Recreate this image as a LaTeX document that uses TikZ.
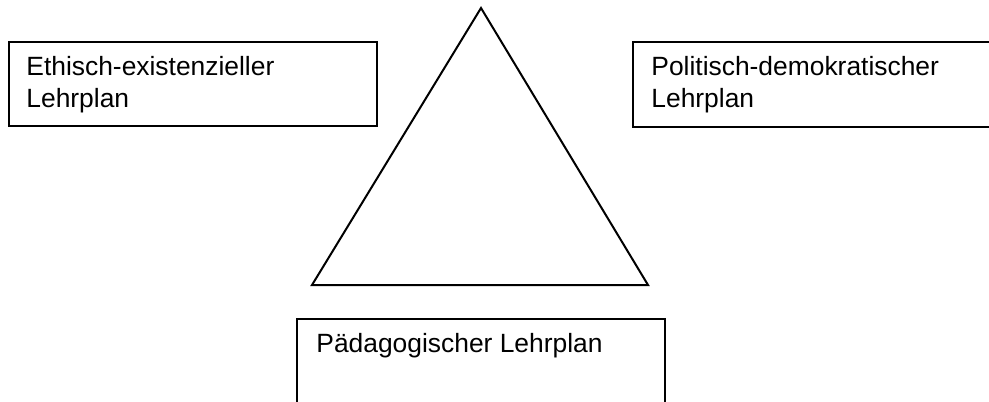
\documentclass[tikz,border=0pt]{standalone}
\usepackage{fontspec}
\setmainfont{Liberation Sans}
\usetikzlibrary{positioning}
\usetikzlibrary{calc}
\tikzstyle{planBox} = [rectangle, draw, line width=1pt, inner sep=0pt]
\tikzstyle{planText} = [anchor=north west, align=left, inner sep=0pt, font=\fontsize{13.2}{16}\selectfont]

\begin{document}
\begin{tikzpicture}[x=0.5pt, y=-0.5pt, line join=miter]
	\useasboundingbox (0,0) rectangle (989,401);
	\clip (0,0) rectangle (989,401);

	\node[planBox, minimum width=184pt, minimum height=42pt, anchor=north west] at (8,41) (Ethik-Box){};
	\node[planText] at ([xshift=9pt, yshift=-7.5pt]Ethik-Box.north west) (Ethik-Text){Ethisch-existenzieller\\Lehrplan};

	\node[planBox, minimum width=190pt, minimum height=42.5pt, anchor=north west] at (632,41) (Politik-Box){};
	\node[planText] at ([xshift=9.5pt, yshift=-7.5pt]Politik-Box.north west) (Politik-Text){Politisch-demokratischer\\Lehrplan};

	\node[planBox, minimum width=184pt, minimum height=60pt, anchor=north west] at (296,318) (Paed-Box){};
	\node[planText] at ([xshift=10pt, yshift=-7.5pt]Paed-Box.north west) (Paed-Text){Pädagogischer Lehrplan};

	% Dreieck
	\coordinate (Spitze) at (481,8);
	\coordinate (Links) at (312,285);
	\coordinate (Rechts) at (648,285);
	\draw[line width=1pt] (Spitze) -- (Links) -- (Rechts) -- cycle;

\end{tikzpicture}
\end{document}
